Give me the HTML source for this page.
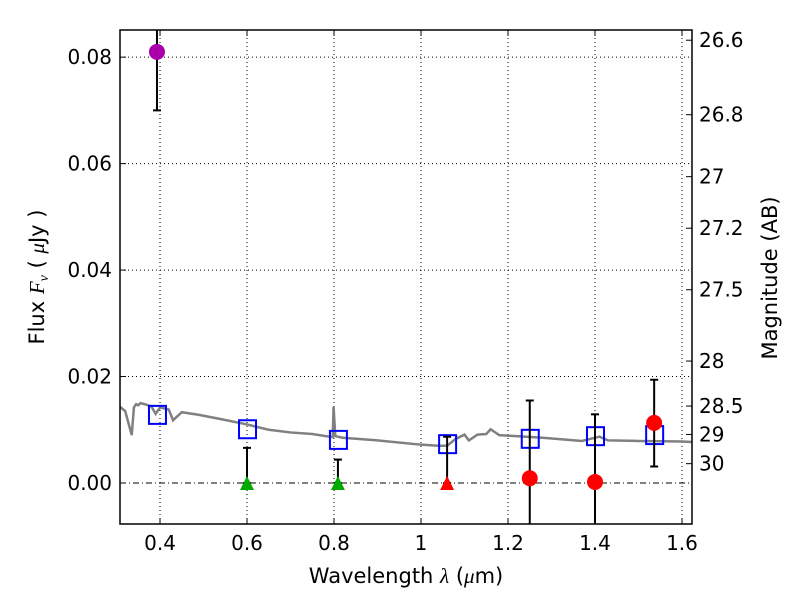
<!DOCTYPE html>
<html><head><meta charset="utf-8"><style>
body{margin:0;background:#fff;}
svg text{font-family:"DejaVu Sans","Liberation Sans",sans-serif;fill:#000;}
</style></head><body>
<svg id="c" width="800" height="600" xmlns="http://www.w3.org/2000/svg"></svg>
<script>
const xTicks=[0.4,0.6,0.8,1.0,1.2,1.4,1.6];
const xTickLabels=["0.4","0.6","0.8","1","1.2","1.4","1.6"];
const yTicks=[0,0.02,0.04,0.06,0.08];
const yTickLabels=["0.00","0.02","0.04","0.06","0.08"];
const magTicks=[26.6,26.8,27,27.2,27.5,28,28.5,29,30];
const specW=[0.308,0.32,0.335,0.34,0.345,0.35,0.355,0.365,0.38,0.39,0.40,0.42,0.43,0.45,0.49,0.54,0.6,0.65,0.7,0.75,0.797,0.799,0.803,0.82,0.9,1.0,1.04,1.06,1.08,1.1,1.11,1.13,1.15,1.16,1.18,1.28,1.37,1.39,1.41,1.43,1.5,1.6,1.623];
const specF=[0.0143,0.0135,0.009,0.0142,0.0148,0.0146,0.0150,0.0148,0.0144,0.0130,0.0142,0.0138,0.0118,0.0133,0.0128,0.0120,0.0110,0.0100,0.0095,0.0092,0.0086,0.0143,0.0088,0.0085,0.0080,0.0072,0.0070,0.0070,0.0083,0.0091,0.0080,0.0091,0.0092,0.0101,0.0090,0.0085,0.0079,0.0083,0.0087,0.0080,0.0079,0.0078,0.0077];
const sqW=[0.393,0.60,0.809,1.06,1.25,1.40,1.536];
const sqF=[0.0128,0.0101,0.0081,0.0073,0.0083,0.0088,0.0090];
const triW=[0.60,0.809,1.06];
const triF=[0,0,0];
const triHi=[0.0066,0.0044,0.0087];
const triColor=["#00aa00","#00aa00","#ff0000"];
const cirW=[0.393,1.25,1.40,1.536];
const cirF=[0.081,0.0009,0.0002,0.0113];
const cirLo=[0.070,-0.02,-0.02,0.0031];
const cirHi=[0.09,0.0155,0.0129,0.0194];
const cirColor=["#aa00aa","#ff0000","#ff0000","#ff0000"];

const L=120,R=692,T=30,B=524,x0=0.308,x1=1.623,y0=-0.0077,y1=0.0851;
const X=v=>L+(v-x0)/(x1-x0)*(R-L);
const Y=v=>B-(v-y0)/(y1-y0)*(B-T);
const svg=document.getElementById('c');const NS="http://www.w3.org/2000/svg";
function mk(t,a,p){const e=document.createElementNS(NS,t);for(const k in a)e.setAttribute(k,a[k]);(p||svg).appendChild(e);return e;}
const clip=mk('clipPath',{id:'cl'});mk('rect',{x:L,y:T,width:R-L,height:B-T},clip);
const g=mk('g',{'clip-path':'url(#cl)'});
xTicks.forEach((v,i)=>{
 const l=mk('line',{x1:X(v),x2:X(v),y1:T,y2:B,stroke:'#000','stroke-width':1,'stroke-dasharray':'1,3'},g);
 
 mk('line',{x1:X(v),x2:X(v),y1:B,y2:B-6,stroke:'#000'});mk('line',{x1:X(v),x2:X(v),y1:T,y2:T+6,stroke:'#000'});
 const t=mk('text',{x:X(v),y:B+26,'font-size':20,'text-anchor':'middle'});t.textContent=xTickLabels[i];
 
});
yTicks.forEach((v,i)=>{
 const l=mk('line',{x1:L,x2:R,y1:Y(v),y2:Y(v),stroke:'#000','stroke-width':1,'stroke-dasharray':v===0?'6,3,1,3':'1,3'},g);
 
 mk('line',{x1:L,x2:L+6,y1:Y(v),y2:Y(v),stroke:'#000'});
 const t=mk('text',{x:L-8,y:Y(v)+7,'font-size':20,'text-anchor':'end'});t.textContent=yTickLabels[i];
 
});
magTicks.forEach(m=>{
 const f=3631e6*Math.pow(10,-0.4*m);
 mk('line',{x1:R,x2:R-6,y1:Y(f),y2:Y(f),stroke:'#000'});
 const t=mk('text',{x:R+7,y:Y(f)+7,'font-size':20});t.textContent=String(m);
 
});
const sp=mk('polyline',{points:specW.map((w,i)=>X(w)+','+Y(specF[i])).join(' '),fill:'none',stroke:'#808080','stroke-width':2.5},g);

function eb(w,lo,hi){mk('line',{x1:X(w),x2:X(w),y1:Y(lo),y2:Y(hi),stroke:'#000','stroke-width':2},g);
 [lo,hi].forEach(v=>mk('line',{x1:X(w)-4,x2:X(w)+4,y1:Y(v),y2:Y(v),stroke:'#000','stroke-width':2},g));}
sqW.forEach((w,i)=>{const r=mk('rect',{x:X(w)-8,y:Y(sqF[i])-9,width:17,height:18,fill:'none',stroke:'#0000ff','stroke-width':2},g);
 });
triW.forEach((w,i)=>{eb(w,triF[i],triHi[i]);const x=X(w),y=Y(triF[i]);
 const p=mk('polygon',{points:`${x},${y-7} ${x-7},${y+7} ${x+7},${y+7}`,fill:triColor[i]},g);
 });
cirW.forEach((w,i)=>{eb(w,cirLo[i],cirHi[i]);
 const c=mk('circle',{cx:X(w),cy:Y(cirF[i]),r:8,fill:cirColor[i]},g);
 });
const fr=mk('rect',{x:L,y:T,width:R-L,height:B-T,fill:'none',stroke:'#000','stroke-width':1.5});

const xl=mk('text',{x:406,y:583,'font-size':21,'text-anchor':'middle'});xl.innerHTML='Wavelength  <tspan font-style="italic" font-family="Liberation Serif">λ</tspan> (<tspan font-style="italic" font-family="Liberation Serif">μ</tspan>m)';

const yl=mk('text',{x:0,y:0,'font-size':21,'text-anchor':'middle',transform:`translate(44,277) rotate(-90)`});yl.innerHTML='Flux  <tspan font-style="italic" font-family="Liberation Serif">F<tspan font-size="14" dy="4">ν</tspan></tspan><tspan dy="-4">  ( </tspan><tspan font-style="italic" font-family="Liberation Serif">μ</tspan>Jy )';

const ml=mk('text',{x:0,y:0,'font-size':21,'text-anchor':'middle',transform:`translate(777,278) rotate(-90)`});ml.textContent='Magnitude (AB)';

</script>
</body></html>
